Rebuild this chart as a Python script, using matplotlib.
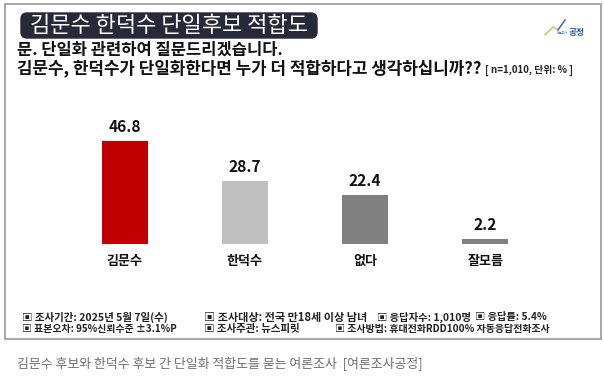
import matplotlib
matplotlib.use("Agg")
import matplotlib.pyplot as plt
from matplotlib.patches import FancyBboxPatch, Rectangle

plt.rcParams['font.family'] = ['Noto Sans CJK KR', 'DejaVu Sans']

categories = ['김문수', '한덕수', '없다', '잘모름']
values = [46.8, 28.7, 22.4, 2.2]
value_labels = ['46.8', '28.7', '22.4', '2.2']
bar_colors = ['#C00000', '#BFBFBF', '#808080', '#7F7F7F']

title = '김문수 한덕수 단일후보 적합도'
question1 = '문. 단일화 관련하여 질문드리겠습니다.'
question2 = '김문수, 한덕수가 단일화한다면 누가 더 적합하다고 생각하십니까??'
sample_note = '[ n=1,010, 단위: % ]'
footer_row1 = ['▣ 조사기간: 2025년 5월 7일(수)', '▣ 조사대상: 전국 만18세 이상 남녀',
               '▣ 응답자수: 1,010명', '▣ 응답률: 5.4%']
footer_row2 = ['▣ 표본오차: 95%신뢰수준 ±3.1%P', '▣ 조사주관: 뉴스피릿',
               '▣ 조사방법: 휴대전화RDD100% 자동응답전화조사']
caption = '김문수 후보와 한덕수 후보 간 단일화 적합도를 묻는 여론조사  [여론조사공정]'

W, H = 604, 376
fig = plt.figure(figsize=(W / 100, H / 100), dpi=100)
renderer = fig.canvas.get_renderer()

bg = fig.add_axes([0, 0, 1, 1])
bg.set_xlim(0, W)
bg.set_ylim(H, 0)
bg.axis('off')


def fit_text(ax, x0, x1, y, s, **kw):
    t = ax.text(x0, y, s, fontsize=10, ha='left', va='center', **kw)
    w = t.get_window_extent(renderer).width
    t.set_fontsize(10 * (x1 - x0) / w)
    return t


# outer frame
bg.add_patch(Rectangle((4.5, 4), 596, 335, fill=False, edgecolor='#A6A6A6', linewidth=1.4))

# title box
bg.add_patch(FancyBboxPatch((21 + 6, 13 + 6), 296 - 12, 25 - 12,
                            boxstyle='round,pad=6', facecolor='#262A38', edgecolor='#262A38'))
fit_text(bg, 30, 308, 26, title, color='white')

# logo
bg.plot([545, 553, 558, 565], [35, 27, 30, 20], color='#B8C85A', linewidth=1.0)
bg.plot([558, 565], [30, 20], color='#3A6AB0', linewidth=1.0)
fit_text(bg, 557, 568, 33, '여론조사', color='#3A6AB0')
fit_text(bg, 569, 585, 32.5, '공정', color='#2456A8', fontweight='bold')

# question text
fit_text(bg, 17, 282, 50, question1, fontweight='bold', color='#111111')
fit_text(bg, 17, 481.5, 68.5, question2, fontweight='bold', color='#111111')
fit_text(bg, 485, 573, 70, sample_note, fontweight='bold', color='#222222')

# footer
row1_spans = [(22, 168), (204, 367), (376.7, 470), (475, 546.7)]
row2_spans = [(22, 176), (204, 300), (335, 550)]
for (a, b), t in zip(row1_spans, footer_row1):
    fit_text(bg, a, b, 317, t, fontweight='bold', color='#222222')
for (a, b), t in zip(row2_spans, footer_row2):
    fit_text(bg, a, b, 329.3, t, fontweight='bold', color='#222222')

# caption
fit_text(bg, 16.7, 423.3, 364, caption, color='#707070')

# bar axes
left_px, right_px = 64.6, 545.4
bottom_px = 244.3
top_px = bottom_px - 60 * (103.3 / 46.8)
ax = fig.add_axes([left_px / W, 1 - bottom_px / H, (right_px - left_px) / W, (bottom_px - top_px) / H])
ax.patch.set_alpha(0)
x = list(range(len(categories)))
bars = ax.bar(x, values, width=46 / 120.2, color=bar_colors)
ax.set_xlim(-0.5, len(categories) - 0.5)
ax.set_ylim(0, 60)
for xi, v, lab in zip(x, values, value_labels):
    ax.annotate(lab, (xi, v), xytext=(0, 10.3), textcoords='offset points',
                ha='center', va='center', fontsize=11.2, fontweight='bold', color='#111111')
for xi, cat in zip(x, categories):
    ax.annotate(cat, (xi, 0), xytext=(0, -12), textcoords='offset points',
                ha='center', va='center', fontsize=9.4, fontweight='bold', color='#111111')
ax.set_xticks([])
ax.set_yticks([])
for s in ax.spines.values():
    s.set_visible(False)

fig.savefig('out.png', dpi=100)
